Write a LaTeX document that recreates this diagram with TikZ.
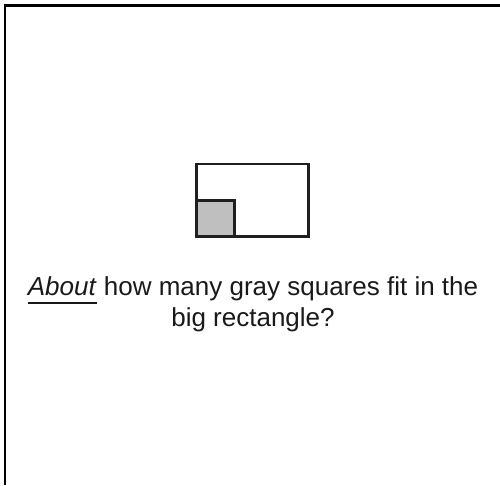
\documentclass[tikz,border=0pt]{standalone}
\usepackage{fontspec}
\setmainfont{Liberation Sans}
\usepackage{calc}
\usetikzlibrary{positioning}
\newlength{\ulwd}
\newcommand{\ulword}[1]{\settowidth{\ulwd}{#1}\rlap{\rule[-8.5pt]{\ulwd}{2pt}}#1}
\tikzset{
	frm/.style={line width=2.4pt, black},
	shp/.style={line width=2.7pt, black!88},
	qtxt/.style={font=\fontsize{26pt}{31pt}\selectfont, text=black!90, align=center, inner sep=0pt},
}
\begin{document}
\begin{tikzpicture}[x=1pt, y=-1pt]
				\useasboundingbox (0,0) rectangle (500,485);
				% frame, only top and left edges show
				\draw[frm] (5,485) -- (5,5.5) -- (500,5.5);
				% big rectangle and gray square
				\filldraw[shp, fill=black!25] (196.5,236.7) rectangle (234.7,200.7);
				\draw[shp] (196.5,164) rectangle (308.7,236.7);
				\node[qtxt, anchor=base] at (253,326) (quest) {\ulword{\textit{About}} how many gray squares fit in the\\big rectangle?};
			\end{tikzpicture}
\end{document}
